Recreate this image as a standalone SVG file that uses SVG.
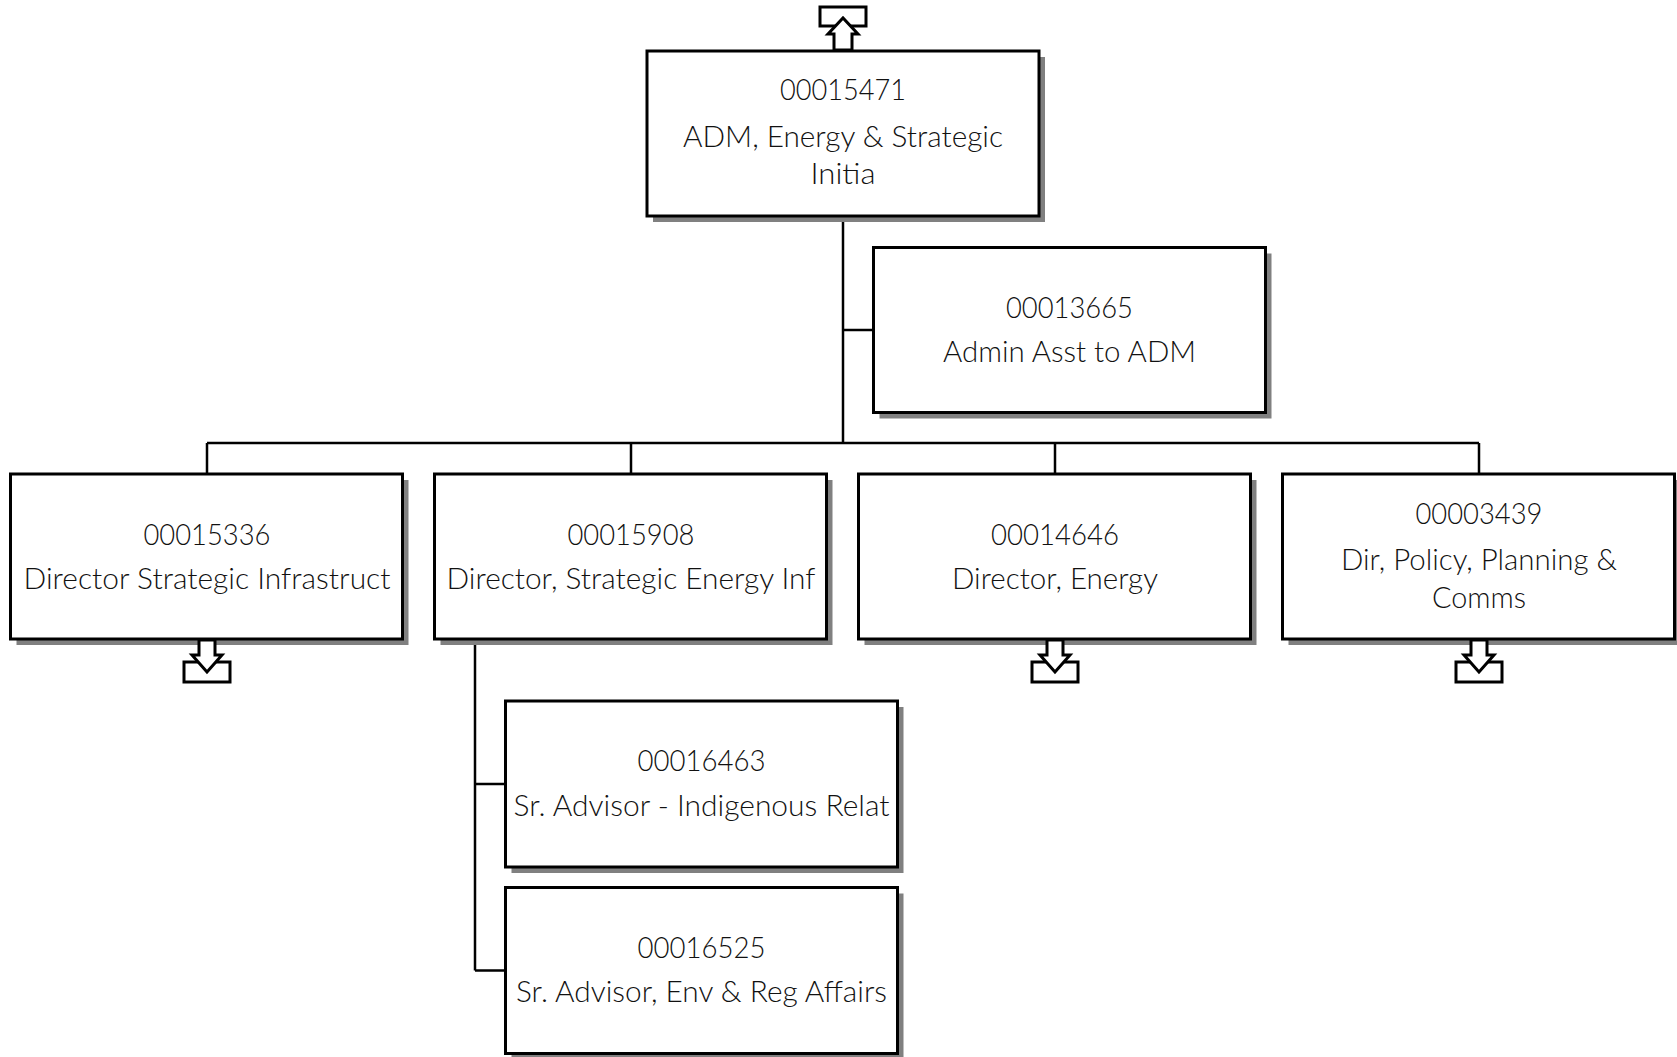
<svg xmlns="http://www.w3.org/2000/svg" width="1677" height="1057" viewBox="0 0 1677 1057">
<style>
.shadow{fill:#808080;stroke:none}
.box{fill:#ffffff;stroke:#000000;stroke-width:3}
.conn{fill:none;stroke:#000000;stroke-width:2.5}
.icon{fill:#ffffff;stroke:#000000;stroke-width:3;stroke-linejoin:miter}
text{font-family:Lato,"Liberation Sans",sans-serif;font-weight:300;font-size:29px;fill:#111111;text-anchor:middle}
</style>
<rect width="1677" height="1057" fill="#ffffff"/>
<g id="connectors">
<path class="conn" d="M843,216 V443"/>
<path class="conn" d="M843,330 H873.5"/>
<path class="conn" d="M207,443 H1479"/>
<path class="conn" d="M207,443 V474 M631,443 V474 M1055,443 V474 M1479,443 V474"/>
<path class="conn" d="M475,639 V970.5 M475,784 H505.5 M475,970.5 H505.5"/>
</g>
<g id="node-00015471">
<rect class="shadow" x="653" y="57" width="392" height="165"/>
<rect class="box" x="647" y="51" width="392" height="165"/>
<rect class="icon" x="820" y="7" width="46" height="19"/>
<polygon class="icon" points="834,50 852,50 852,34 858,34 843,18 828,34 834,34"/>
<text x="843" y="100" textLength="126" lengthAdjust="spacingAndGlyphs">00015471</text>
<text x="843" y="146.5" textLength="320" lengthAdjust="spacingAndGlyphs">ADM, Energy &amp; Strategic</text>
<text x="843" y="184" textLength="65" lengthAdjust="spacingAndGlyphs">Initia</text>
</g>
<g id="node-00013665">
<rect class="shadow" x="879.5" y="253.5" width="392" height="165"/>
<rect class="box" x="873.5" y="247.5" width="392" height="165"/>
<text x="1069.5" y="318" textLength="127" lengthAdjust="spacingAndGlyphs">00013665</text>
<text x="1069.5" y="362" textLength="253" lengthAdjust="spacingAndGlyphs">Admin Asst to ADM</text>
</g>
<g id="node-00015336">
<rect class="shadow" x="16.5" y="480" width="392" height="165"/>
<rect class="box" x="10.5" y="474" width="392" height="165"/>
<rect class="icon" x="184" y="662" width="46" height="20"/>
<polygon class="icon" points="199,640 215,640 215,655 222,655 207,672 192,655 199,655"/>
<text x="207" y="544.5" textLength="127" lengthAdjust="spacingAndGlyphs">00015336</text>
<text x="207" y="588.5" textLength="367" lengthAdjust="spacingAndGlyphs">Director Strategic Infrastruct</text>
</g>
<g id="node-00015908">
<rect class="shadow" x="440.5" y="480" width="392" height="165"/>
<rect class="box" x="434.5" y="474" width="392" height="165"/>
<text x="631" y="544.5" textLength="127" lengthAdjust="spacingAndGlyphs">00015908</text>
<text x="631" y="588.5" textLength="369" lengthAdjust="spacingAndGlyphs">Director, Strategic Energy Inf</text>
</g>
<g id="node-00014646">
<rect class="shadow" x="864.5" y="480" width="392" height="165"/>
<rect class="box" x="858.5" y="474" width="392" height="165"/>
<rect class="icon" x="1032" y="662" width="46" height="20"/>
<polygon class="icon" points="1047,640 1063,640 1063,655 1070,655 1055,672 1040,655 1047,655"/>
<text x="1055" y="544.5" textLength="128" lengthAdjust="spacingAndGlyphs">00014646</text>
<text x="1055" y="588.5" textLength="206" lengthAdjust="spacingAndGlyphs">Director, Energy</text>
</g>
<g id="node-00003439">
<rect class="shadow" x="1288.5" y="480" width="392" height="165"/>
<rect class="box" x="1282.5" y="474" width="392" height="165"/>
<rect class="icon" x="1456" y="662" width="46" height="20"/>
<polygon class="icon" points="1471,640 1487,640 1487,655 1494,655 1479,672 1464,655 1471,655"/>
<text x="1479" y="524" textLength="127" lengthAdjust="spacingAndGlyphs">00003439</text>
<text x="1479" y="570" textLength="276" lengthAdjust="spacingAndGlyphs">Dir, Policy, Planning &amp;</text>
<text x="1479" y="607.5" textLength="94" lengthAdjust="spacingAndGlyphs">Comms</text>
</g>
<g id="node-00016463">
<rect class="shadow" x="511.5" y="707" width="392" height="166"/>
<rect class="box" x="505.5" y="701" width="392" height="166"/>
<text x="701.5" y="771" textLength="128" lengthAdjust="spacingAndGlyphs">00016463</text>
<text x="701.5" y="816" textLength="376" lengthAdjust="spacingAndGlyphs">Sr. Advisor - Indigenous Relat</text>
</g>
<g id="node-00016525">
<rect class="shadow" x="511.5" y="893.5" width="392" height="166"/>
<rect class="box" x="505.5" y="887.5" width="392" height="166"/>
<text x="701.5" y="957.5" textLength="128" lengthAdjust="spacingAndGlyphs">00016525</text>
<text x="701.5" y="1002" textLength="371" lengthAdjust="spacingAndGlyphs">Sr. Advisor, Env &amp; Reg Affairs</text>
</g>
</svg>
